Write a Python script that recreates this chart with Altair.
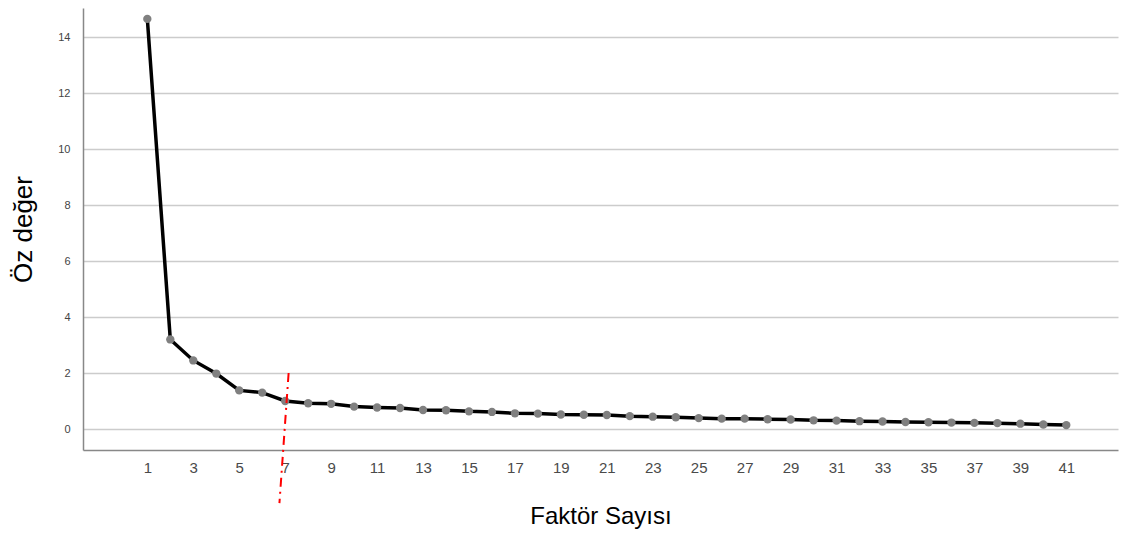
import altair as alt
import pandas as pd

factors = list(range(1, 42))
eigen = [14.65, 3.2, 2.45, 1.98, 1.38, 1.3, 1.0, 0.92, 0.9, 0.8,
         0.77, 0.75, 0.68, 0.67, 0.63, 0.61, 0.56, 0.55, 0.52, 0.51,
         0.5, 0.46, 0.44, 0.42, 0.39, 0.37, 0.37, 0.35, 0.34, 0.31,
         0.3, 0.28, 0.27, 0.25, 0.24, 0.23, 0.22, 0.21, 0.19, 0.16, 0.14]
x_ticks = list(range(1, 42, 2))
y_ticks = [0, 2, 4, 6, 8, 10, 12, 14]

cut_x = [7.15]
cut_x2 = [6.75]
cut_y = [2.0]
cut_y2 = [-2.65]

df = pd.DataFrame({"f": factors, "e": eigen})
cut = pd.DataFrame({"x": cut_x, "x2": cut_x2, "y": cut_y, "y2": cut_y2})

xs = alt.Scale(domain=[-1.8, 43.25], nice=False, zero=False)
ys = alt.Scale(domain=[-0.75, 15.04], nice=False, zero=False)

xax = alt.Axis(values=x_ticks, title="Faktör Sayısı", grid=False, ticks=False,
               labelFontSize=15, labelColor="#4a4a4a", labelPadding=10,
               titleFontSize=24, titleFontWeight="normal", titleColor="#000000",
               titlePadding=29, domainColor="#888888", domainWidth=1.5,
               labelFont="Liberation Sans", titleFont="Liberation Sans")
yax = alt.Axis(values=y_ticks, title="Öz değer", grid=True, gridColor="#cccccc",
               gridWidth=1.3, ticks=False, labelFontSize=11, labelColor="#444444",
               labelPadding=13, titleFontSize=26, titleFontWeight="normal",
               titleColor="#000000", titlePadding=21, domainColor="#888888",
               domainWidth=1.5, labelFont="Liberation Sans", titleFont="Liberation Sans")

line = alt.Chart(df).mark_line(color="#000000", strokeWidth=3.5).encode(
    x=alt.X("f:Q", scale=xs, axis=xax),
    y=alt.Y("e:Q", scale=ys, axis=yax),
)
pts = alt.Chart(df).mark_circle(color="#808080", opacity=1, size=70).encode(
    x=alt.X("f:Q", scale=xs),
    y=alt.Y("e:Q", scale=ys),
)
rule = alt.Chart(cut).mark_rule(color="#ff0000", strokeWidth=2,
                                strokeDash=[9, 5, 2, 5], clip=False).encode(
    x="x:Q", x2="x2", y="y:Q", y2="y2"
)

chart = alt.layer(line, pts, rule).properties(
    width=1035, height=442,
    autosize=alt.AutoSizeParams(type="none"),
    padding={"left": 75, "top": 0, "right": 2, "bottom": 80},
).configure(background="white", view=alt.ViewConfig(stroke=None))

chart.save("out.html", embed_options={"renderer": "svg", "actions": False})
